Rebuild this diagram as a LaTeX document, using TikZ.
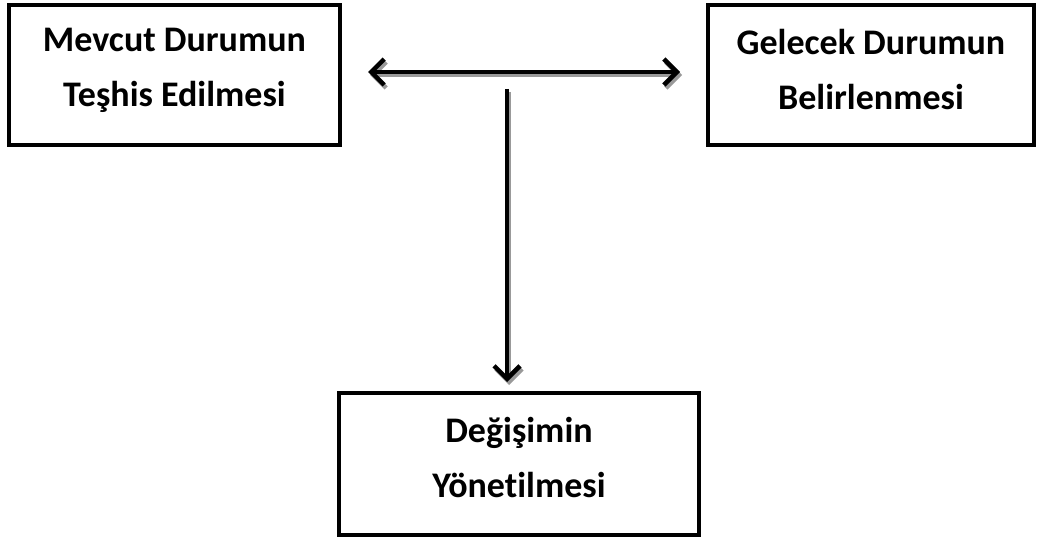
\documentclass[tikz,border=0pt]{standalone}
\usepackage{fontspec}
\setmainfont{Carlito}[Ligatures={NoCommon}]
\usetikzlibrary{arrows.meta}
\begin{document}
\begin{tikzpicture}[x=1pt,y=-1pt,
  box/.style={draw=black,line width=4.5pt,fill=white,inner sep=0pt},
  lbl/.style={font=\fontsize{36}{55}\selectfont\bfseries,align=center},
  tip/.style={Straight Barb[length=13pt,width=26pt,line width=4.5pt]},
  link/.style={line width=4pt,-{Straight Barb[length=13pt,width=26pt,line width=4.5pt]}},
  dlink/.style={line width=4pt,{Straight Barb[length=13pt,width=26pt,line width=4.5pt]}-{Straight Barb[length=13pt,width=26pt,line width=4.5pt]}},
  shade/.style={draw=black!40}]
\useasboundingbox (0,0) rectangle (1038,540);
% boxes
\draw[box] (9,5) rectangle (340,145);
\draw[box] (708,5) rectangle (1034,145);
\draw[box] (339,393) rectangle (699,535);
\node[lbl] (cur) at (174.5,70) {Mevcut Durumun\\Teşhis Edilmesi};
\node[lbl] (fut) at (871,70) {Gelecek Durumun\\Belirlenmesi};
\node[lbl] (chg) at (519,457) {Değişimin\\Yönetilmesi};
% connectors
\coordinate (la) at (368,72);
\coordinate (ra) at (680,72);
\coordinate (vs) at (507,89);
\coordinate (ve) at (507,382);
\draw[dlink,shade] ([shift={(2,3)}]la) -- ([shift={(2,3)}]ra);
\draw[dlink] (la) -- (ra);
\draw[link,shade] ([shift={(2,3)}]vs) -- ([shift={(2,3)}]ve);
\draw[link] (vs) -- (ve);
\end{tikzpicture}
\end{document}
